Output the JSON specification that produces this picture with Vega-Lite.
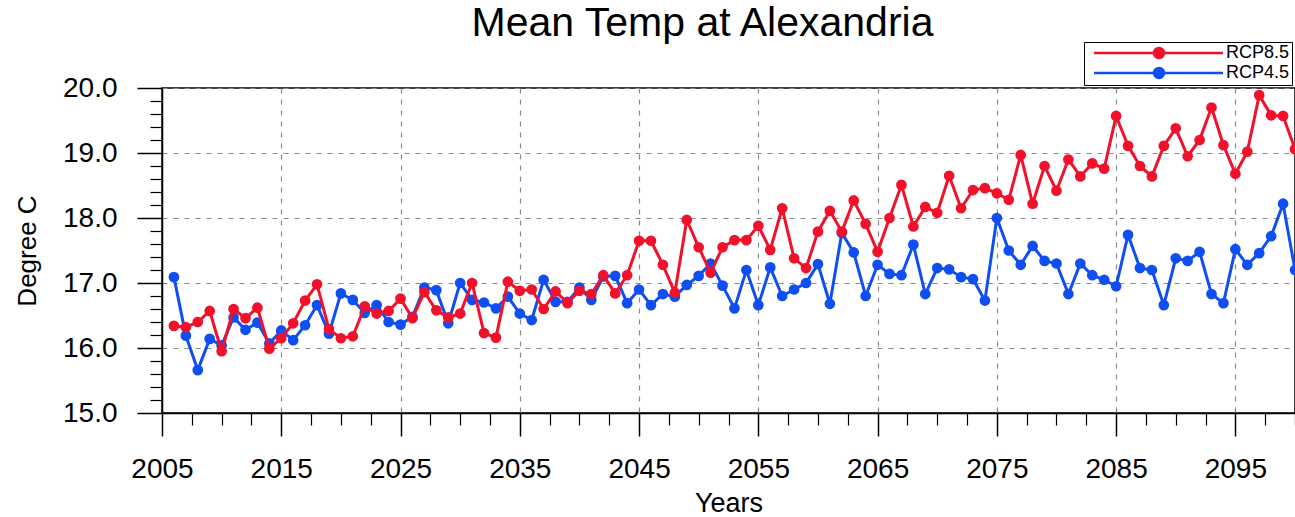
{
  "$schema": "https://vega.github.io/schema/vega-lite/v6.json",
  "autosize": {"type": "none"},
  "padding": {"left": 162, "top": 88, "right": 0, "bottom": 104},
  "width": 1133,
  "height": 325,
  "background": "white",
  "title": {"text": "Mean Temp at Alexandria", "fontSize": 41, "font": "Liberation Sans", "fontWeight": "normal", "color": "black", "anchor": "middle", "dx": -26, "offset": -3},
  "datasets": {
    "temps": [
      {"year": 2006, "scenario": "RCP4.5", "temp": 17.09}, {"year": 2007, "scenario": "RCP4.5", "temp": 16.19}, {"year": 2008, "scenario": "RCP4.5", "temp": 15.66}, {"year": 2009, "scenario": "RCP4.5", "temp": 16.14}, {"year": 2010, "scenario": "RCP4.5", "temp": 16.04},
      {"year": 2011, "scenario": "RCP4.5", "temp": 16.47}, {"year": 2012, "scenario": "RCP4.5", "temp": 16.28}, {"year": 2013, "scenario": "RCP4.5", "temp": 16.39}, {"year": 2014, "scenario": "RCP4.5", "temp": 16.07}, {"year": 2015, "scenario": "RCP4.5", "temp": 16.27},
      {"year": 2016, "scenario": "RCP4.5", "temp": 16.12}, {"year": 2017, "scenario": "RCP4.5", "temp": 16.35}, {"year": 2018, "scenario": "RCP4.5", "temp": 16.66}, {"year": 2019, "scenario": "RCP4.5", "temp": 16.22}, {"year": 2020, "scenario": "RCP4.5", "temp": 16.84},
      {"year": 2021, "scenario": "RCP4.5", "temp": 16.74}, {"year": 2022, "scenario": "RCP4.5", "temp": 16.54}, {"year": 2023, "scenario": "RCP4.5", "temp": 16.66}, {"year": 2024, "scenario": "RCP4.5", "temp": 16.40}, {"year": 2025, "scenario": "RCP4.5", "temp": 16.36},
      {"year": 2026, "scenario": "RCP4.5", "temp": 16.48}, {"year": 2027, "scenario": "RCP4.5", "temp": 16.93}, {"year": 2028, "scenario": "RCP4.5", "temp": 16.89}, {"year": 2029, "scenario": "RCP4.5", "temp": 16.38}, {"year": 2030, "scenario": "RCP4.5", "temp": 17.00},
      {"year": 2031, "scenario": "RCP4.5", "temp": 16.74}, {"year": 2032, "scenario": "RCP4.5", "temp": 16.70}, {"year": 2033, "scenario": "RCP4.5", "temp": 16.61}, {"year": 2034, "scenario": "RCP4.5", "temp": 16.79}, {"year": 2035, "scenario": "RCP4.5", "temp": 16.53},
      {"year": 2036, "scenario": "RCP4.5", "temp": 16.43}, {"year": 2037, "scenario": "RCP4.5", "temp": 17.05}, {"year": 2038, "scenario": "RCP4.5", "temp": 16.71}, {"year": 2039, "scenario": "RCP4.5", "temp": 16.71}, {"year": 2040, "scenario": "RCP4.5", "temp": 16.93},
      {"year": 2041, "scenario": "RCP4.5", "temp": 16.74}, {"year": 2042, "scenario": "RCP4.5", "temp": 17.10}, {"year": 2043, "scenario": "RCP4.5", "temp": 17.11}, {"year": 2044, "scenario": "RCP4.5", "temp": 16.69}, {"year": 2045, "scenario": "RCP4.5", "temp": 16.90},
      {"year": 2046, "scenario": "RCP4.5", "temp": 16.66}, {"year": 2047, "scenario": "RCP4.5", "temp": 16.83}, {"year": 2048, "scenario": "RCP4.5", "temp": 16.79}, {"year": 2049, "scenario": "RCP4.5", "temp": 16.97}, {"year": 2050, "scenario": "RCP4.5", "temp": 17.11},
      {"year": 2051, "scenario": "RCP4.5", "temp": 17.30}, {"year": 2052, "scenario": "RCP4.5", "temp": 16.96}, {"year": 2053, "scenario": "RCP4.5", "temp": 16.61}, {"year": 2054, "scenario": "RCP4.5", "temp": 17.20}, {"year": 2055, "scenario": "RCP4.5", "temp": 16.66},
      {"year": 2056, "scenario": "RCP4.5", "temp": 17.24}, {"year": 2057, "scenario": "RCP4.5", "temp": 16.80}, {"year": 2058, "scenario": "RCP4.5", "temp": 16.90}, {"year": 2059, "scenario": "RCP4.5", "temp": 17.00}, {"year": 2060, "scenario": "RCP4.5", "temp": 17.29},
      {"year": 2061, "scenario": "RCP4.5", "temp": 16.68}, {"year": 2062, "scenario": "RCP4.5", "temp": 17.77}, {"year": 2063, "scenario": "RCP4.5", "temp": 17.47}, {"year": 2064, "scenario": "RCP4.5", "temp": 16.80}, {"year": 2065, "scenario": "RCP4.5", "temp": 17.28},
      {"year": 2066, "scenario": "RCP4.5", "temp": 17.14}, {"year": 2067, "scenario": "RCP4.5", "temp": 17.12}, {"year": 2068, "scenario": "RCP4.5", "temp": 17.59}, {"year": 2069, "scenario": "RCP4.5", "temp": 16.83}, {"year": 2070, "scenario": "RCP4.5", "temp": 17.23},
      {"year": 2071, "scenario": "RCP4.5", "temp": 17.21}, {"year": 2072, "scenario": "RCP4.5", "temp": 17.09}, {"year": 2073, "scenario": "RCP4.5", "temp": 17.06}, {"year": 2074, "scenario": "RCP4.5", "temp": 16.73}, {"year": 2075, "scenario": "RCP4.5", "temp": 18.00},
      {"year": 2076, "scenario": "RCP4.5", "temp": 17.50}, {"year": 2077, "scenario": "RCP4.5", "temp": 17.28}, {"year": 2078, "scenario": "RCP4.5", "temp": 17.57}, {"year": 2079, "scenario": "RCP4.5", "temp": 17.34}, {"year": 2080, "scenario": "RCP4.5", "temp": 17.30},
      {"year": 2081, "scenario": "RCP4.5", "temp": 16.83}, {"year": 2082, "scenario": "RCP4.5", "temp": 17.30}, {"year": 2083, "scenario": "RCP4.5", "temp": 17.12}, {"year": 2084, "scenario": "RCP4.5", "temp": 17.05}, {"year": 2085, "scenario": "RCP4.5", "temp": 16.95},
      {"year": 2086, "scenario": "RCP4.5", "temp": 17.74}, {"year": 2087, "scenario": "RCP4.5", "temp": 17.23}, {"year": 2088, "scenario": "RCP4.5", "temp": 17.20}, {"year": 2089, "scenario": "RCP4.5", "temp": 16.66}, {"year": 2090, "scenario": "RCP4.5", "temp": 17.38},
      {"year": 2091, "scenario": "RCP4.5", "temp": 17.34}, {"year": 2092, "scenario": "RCP4.5", "temp": 17.48}, {"year": 2093, "scenario": "RCP4.5", "temp": 16.83}, {"year": 2094, "scenario": "RCP4.5", "temp": 16.69}, {"year": 2095, "scenario": "RCP4.5", "temp": 17.52},
      {"year": 2096, "scenario": "RCP4.5", "temp": 17.28}, {"year": 2097, "scenario": "RCP4.5", "temp": 17.46}, {"year": 2098, "scenario": "RCP4.5", "temp": 17.72}, {"year": 2099, "scenario": "RCP4.5", "temp": 18.22}, {"year": 2100, "scenario": "RCP4.5", "temp": 17.20},
      {"year": 2006, "scenario": "RCP8.5", "temp": 16.34}, {"year": 2007, "scenario": "RCP8.5", "temp": 16.32}, {"year": 2008, "scenario": "RCP8.5", "temp": 16.40}, {"year": 2009, "scenario": "RCP8.5", "temp": 16.57}, {"year": 2010, "scenario": "RCP8.5", "temp": 15.95},
      {"year": 2011, "scenario": "RCP8.5", "temp": 16.60}, {"year": 2012, "scenario": "RCP8.5", "temp": 16.46}, {"year": 2013, "scenario": "RCP8.5", "temp": 16.62}, {"year": 2014, "scenario": "RCP8.5", "temp": 15.99}, {"year": 2015, "scenario": "RCP8.5", "temp": 16.15},
      {"year": 2016, "scenario": "RCP8.5", "temp": 16.38}, {"year": 2017, "scenario": "RCP8.5", "temp": 16.73}, {"year": 2018, "scenario": "RCP8.5", "temp": 16.98}, {"year": 2019, "scenario": "RCP8.5", "temp": 16.29}, {"year": 2020, "scenario": "RCP8.5", "temp": 16.15},
      {"year": 2021, "scenario": "RCP8.5", "temp": 16.18}, {"year": 2022, "scenario": "RCP8.5", "temp": 16.64}, {"year": 2023, "scenario": "RCP8.5", "temp": 16.53}, {"year": 2024, "scenario": "RCP8.5", "temp": 16.57}, {"year": 2025, "scenario": "RCP8.5", "temp": 16.76},
      {"year": 2026, "scenario": "RCP8.5", "temp": 16.46}, {"year": 2027, "scenario": "RCP8.5", "temp": 16.86}, {"year": 2028, "scenario": "RCP8.5", "temp": 16.58}, {"year": 2029, "scenario": "RCP8.5", "temp": 16.47}, {"year": 2030, "scenario": "RCP8.5", "temp": 16.53},
      {"year": 2031, "scenario": "RCP8.5", "temp": 17.00}, {"year": 2032, "scenario": "RCP8.5", "temp": 16.23}, {"year": 2033, "scenario": "RCP8.5", "temp": 16.16}, {"year": 2034, "scenario": "RCP8.5", "temp": 17.02}, {"year": 2035, "scenario": "RCP8.5", "temp": 16.88},
      {"year": 2036, "scenario": "RCP8.5", "temp": 16.90}, {"year": 2037, "scenario": "RCP8.5", "temp": 16.60}, {"year": 2038, "scenario": "RCP8.5", "temp": 16.87}, {"year": 2039, "scenario": "RCP8.5", "temp": 16.69}, {"year": 2040, "scenario": "RCP8.5", "temp": 16.88},
      {"year": 2041, "scenario": "RCP8.5", "temp": 16.83}, {"year": 2042, "scenario": "RCP8.5", "temp": 17.12}, {"year": 2043, "scenario": "RCP8.5", "temp": 16.84}, {"year": 2044, "scenario": "RCP8.5", "temp": 17.12}, {"year": 2045, "scenario": "RCP8.5", "temp": 17.65},
      {"year": 2046, "scenario": "RCP8.5", "temp": 17.65}, {"year": 2047, "scenario": "RCP8.5", "temp": 17.28}, {"year": 2048, "scenario": "RCP8.5", "temp": 16.85}, {"year": 2049, "scenario": "RCP8.5", "temp": 17.97}, {"year": 2050, "scenario": "RCP8.5", "temp": 17.55},
      {"year": 2051, "scenario": "RCP8.5", "temp": 17.16}, {"year": 2052, "scenario": "RCP8.5", "temp": 17.55}, {"year": 2053, "scenario": "RCP8.5", "temp": 17.66}, {"year": 2054, "scenario": "RCP8.5", "temp": 17.66}, {"year": 2055, "scenario": "RCP8.5", "temp": 17.88},
      {"year": 2056, "scenario": "RCP8.5", "temp": 17.51}, {"year": 2057, "scenario": "RCP8.5", "temp": 18.15}, {"year": 2058, "scenario": "RCP8.5", "temp": 17.38}, {"year": 2059, "scenario": "RCP8.5", "temp": 17.23}, {"year": 2060, "scenario": "RCP8.5", "temp": 17.79},
      {"year": 2061, "scenario": "RCP8.5", "temp": 18.11}, {"year": 2062, "scenario": "RCP8.5", "temp": 17.79}, {"year": 2063, "scenario": "RCP8.5", "temp": 18.27}, {"year": 2064, "scenario": "RCP8.5", "temp": 17.91}, {"year": 2065, "scenario": "RCP8.5", "temp": 17.48},
      {"year": 2066, "scenario": "RCP8.5", "temp": 18.00}, {"year": 2067, "scenario": "RCP8.5", "temp": 18.51}, {"year": 2068, "scenario": "RCP8.5", "temp": 17.87}, {"year": 2069, "scenario": "RCP8.5", "temp": 18.17}, {"year": 2070, "scenario": "RCP8.5", "temp": 18.08},
      {"year": 2071, "scenario": "RCP8.5", "temp": 18.65}, {"year": 2072, "scenario": "RCP8.5", "temp": 18.15}, {"year": 2073, "scenario": "RCP8.5", "temp": 18.43}, {"year": 2074, "scenario": "RCP8.5", "temp": 18.46}, {"year": 2075, "scenario": "RCP8.5", "temp": 18.38},
      {"year": 2076, "scenario": "RCP8.5", "temp": 18.28}, {"year": 2077, "scenario": "RCP8.5", "temp": 18.97}, {"year": 2078, "scenario": "RCP8.5", "temp": 18.22}, {"year": 2079, "scenario": "RCP8.5", "temp": 18.80}, {"year": 2080, "scenario": "RCP8.5", "temp": 18.42},
      {"year": 2081, "scenario": "RCP8.5", "temp": 18.90}, {"year": 2082, "scenario": "RCP8.5", "temp": 18.64}, {"year": 2083, "scenario": "RCP8.5", "temp": 18.84}, {"year": 2084, "scenario": "RCP8.5", "temp": 18.76}, {"year": 2085, "scenario": "RCP8.5", "temp": 19.57},
      {"year": 2086, "scenario": "RCP8.5", "temp": 19.11}, {"year": 2087, "scenario": "RCP8.5", "temp": 18.80}, {"year": 2088, "scenario": "RCP8.5", "temp": 18.64}, {"year": 2089, "scenario": "RCP8.5", "temp": 19.11}, {"year": 2090, "scenario": "RCP8.5", "temp": 19.38},
      {"year": 2091, "scenario": "RCP8.5", "temp": 18.95}, {"year": 2092, "scenario": "RCP8.5", "temp": 19.20}, {"year": 2093, "scenario": "RCP8.5", "temp": 19.70}, {"year": 2094, "scenario": "RCP8.5", "temp": 19.12}, {"year": 2095, "scenario": "RCP8.5", "temp": 18.68},
      {"year": 2096, "scenario": "RCP8.5", "temp": 19.02}, {"year": 2097, "scenario": "RCP8.5", "temp": 19.89}, {"year": 2098, "scenario": "RCP8.5", "temp": 19.58}, {"year": 2099, "scenario": "RCP8.5", "temp": 19.57}, {"year": 2100, "scenario": "RCP8.5", "temp": 19.06}
    ]
  },
  "data": {"name": "temps"},
  "layer": [
    {
      "mark": {"type": "point", "opacity": 0},
      "encoding": {
        "x": {"field": "year", "type": "quantitative", "scale": {"domain": [2005, 2100], "nice": false, "zero": false},
          "axis": {"orient": "bottom", "values": [2007.5, 2010, 2012.5, 2017.5, 2020, 2022.5, 2027.5, 2030, 2032.5, 2037.5, 2040, 2042.5, 2047.5, 2050, 2052.5, 2057.5, 2060, 2062.5, 2067.5, 2070, 2072.5, 2077.5, 2080, 2082.5, 2087.5, 2090, 2092.5, 2097.5, 2100], "labels": false, "grid": false, "domain": false, "tickSize": 12, "tickWidth": 1.2, "tickColor": "black", "title": null}},
        "y": {"field": "temp", "type": "quantitative", "scale": {"domain": [15, 20], "nice": false, "zero": false},
          "axis": {"orient": "left", "values": [15.2, 15.4, 15.6, 15.8, 16.2, 16.4, 16.6, 16.8, 17.2, 17.4, 17.6, 17.8, 18.2, 18.4, 18.6, 18.8, 19.2, 19.4, 19.6, 19.8], "labels": false, "grid": false, "domain": false, "tickSize": 12, "tickWidth": 1.2, "tickColor": "black", "title": null}}
      }
    },
    {
      "transform": [{"filter": "datum.scenario == 'RCP4.5'"}],
      "mark": {"type": "line", "strokeWidth": 3, "point": {"filled": true, "size": 115, "opacity": 1}},
      "encoding": {
        "x": {"field": "year", "type": "quantitative",
          "axis": {"orient": "bottom", "values": [2005, 2015, 2025, 2035, 2045, 2055, 2065, 2075, 2085, 2095], "format": "d", "labelFlush": false, "tickSize": 23, "tickWidth": 1.5, "tickColor": "black", "domainColor": "black", "domainWidth": 1.5, "labelFontSize": 28, "labelPadding": 19, "labelColor": "black", "labelFont": "Liberation Sans", "grid": true, "gridDash": [5, 6], "gridColor": "#8a8a8a", "gridWidth": 1.2, "title": "Years", "titleFontSize": 27, "titleFont": "Liberation Sans", "titleFontWeight": "normal", "titleColor": "black", "titlePadding": 7}},
        "y": {"field": "temp", "type": "quantitative",
          "axis": {"orient": "left", "values": [15, 16, 17, 18, 19, 20], "format": ".1f", "labelFlush": false, "tickSize": 25, "tickWidth": 1.5, "tickColor": "black", "domainColor": "black", "domainWidth": 1.5, "labelFontSize": 28, "labelPadding": 20, "labelColor": "black", "labelFont": "Liberation Sans", "grid": true, "gridDash": [5, 6], "gridColor": "#8a8a8a", "gridWidth": 1.2, "title": "Degree C", "titleFontSize": 26, "titleFont": "Liberation Sans", "titleFontWeight": "normal", "titleColor": "black", "titlePadding": 22}},
        "color": {"field": "scenario", "type": "nominal",
          "scale": {"domain": ["RCP8.5", "RCP4.5"], "range": ["#f2102a", "#0f4ef2"]},
          "legend": {"orient": "none", "legendX": 922, "legendY": -46, "title": null,
            "symbolType": "M-0.2,0H25.6M11.8,0A1,1 0 1,1 13.8,0A1,1 0 1,1 11.8,0",
            "symbolSize": 100, "symbolStrokeWidth": 2.5, "labelOffset": 122, "labelFontSize": 18, "labelFont": "Liberation Sans", "labelColor": "black",
            "padding": 2, "rowPadding": 0, "strokeColor": "black", "fillColor": "white",
            "encode": {"symbols": {"update": {"fill": {"scale": "color", "field": "value"}, "stroke": {"scale": "color", "field": "value"}, "opacity": {"value": 1}, "fillOpacity": {"value": 1}, "strokeWidth": {"value": 2.5}}}}}}
      }
    },
    {
      "transform": [{"filter": "datum.scenario == 'RCP8.5'"}],
      "mark": {"type": "line", "strokeWidth": 3, "point": {"filled": true, "size": 115, "opacity": 1}},
      "encoding": {
        "x": {"field": "year", "type": "quantitative", "axis": null},
        "y": {"field": "temp", "type": "quantitative", "axis": null},
        "color": {"field": "scenario", "type": "nominal"}
      }
    }
  ],
  "resolve": {"axis": {"x": "independent", "y": "independent"}},
  "config": {
    "view": {"stroke": "black", "strokeWidth": 1.5},
    "font": "Liberation Sans"
  }
}
